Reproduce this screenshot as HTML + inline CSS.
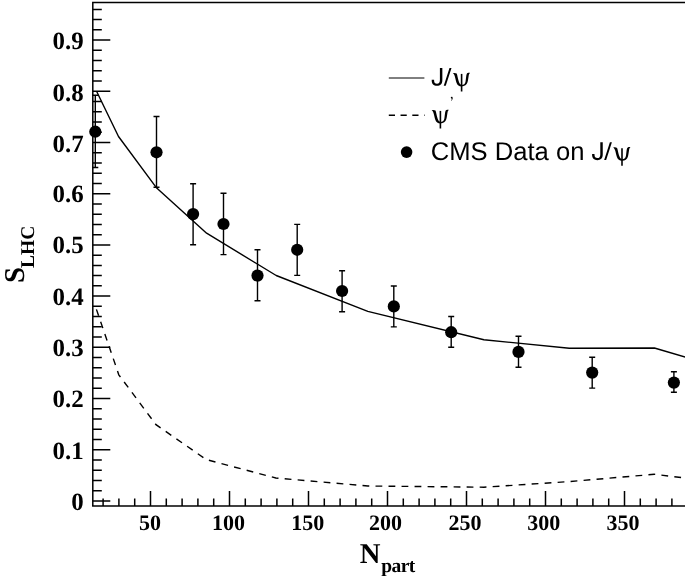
<!DOCTYPE html>
<html><head><meta charset="utf-8"><style>
html,body{margin:0;padding:0;background:#fff;overflow:hidden;}
svg{display:block;filter:grayscale(1);text-rendering:geometricPrecision;}
.yl{font-family:"Liberation Serif",serif;font-weight:bold;font-size:24.9px;}
.xl{font-family:"Liberation Serif",serif;font-weight:bold;font-size:22px;}
.t1{font-family:"Liberation Serif",serif;font-weight:bold;font-size:28.7px;}
.t2{font-family:"Liberation Serif",serif;font-weight:bold;font-size:19.5px;}
.lg{font-family:"Liberation Sans",sans-serif;font-size:25.6px;}
.psi{font-family:"Liberation Serif",serif;}
</style></head><body>
<svg width="685" height="576" viewBox="0 0 685 576">
<path d="M92.8,506.0 L92.8,2.6 L685,2.6" fill="none" stroke="#000" stroke-width="1.5"/>
<path d="M92.05,506.0 L685,506.0" fill="none" stroke="#000" stroke-width="1.5"/>
<path d="M92.8,500.90h17.5M92.8,490.66h9M92.8,480.42h9M92.8,470.18h9M92.8,459.94h9M92.8,449.70h17.5M92.8,439.46h9M92.8,429.22h9M92.8,418.98h9M92.8,408.74h9M92.8,398.50h17.5M92.8,388.26h9M92.8,378.02h9M92.8,367.78h9M92.8,357.54h9M92.8,347.30h17.5M92.8,337.06h9M92.8,326.82h9M92.8,316.58h9M92.8,306.34h9M92.8,296.10h17.5M92.8,285.86h9M92.8,275.62h9M92.8,265.38h9M92.8,255.14h9M92.8,244.90h17.5M92.8,234.66h9M92.8,224.42h9M92.8,214.18h9M92.8,203.94h9M92.8,193.70h17.5M92.8,183.46h9M92.8,173.22h9M92.8,162.98h9M92.8,152.74h9M92.8,142.50h17.5M92.8,132.26h9M92.8,122.02h9M92.8,111.78h9M92.8,101.54h9M92.8,91.30h17.5M92.8,81.06h9M92.8,70.82h9M92.8,60.58h9M92.8,50.34h9M92.8,40.10h17.5M92.8,29.86h9M92.8,19.62h9M92.8,9.38h9" stroke="#000" stroke-width="1.5"/>
<path d="M103.10,506.0v-7.6M118.90,506.0v-7.6M134.70,506.0v-7.6M150.50,506.0v-15M166.30,506.0v-7.6M182.10,506.0v-7.6M197.90,506.0v-7.6M213.70,506.0v-7.6M229.50,506.0v-15M245.30,506.0v-7.6M261.10,506.0v-7.6M276.90,506.0v-7.6M292.70,506.0v-7.6M308.50,506.0v-15M324.30,506.0v-7.6M340.10,506.0v-7.6M355.90,506.0v-7.6M371.70,506.0v-7.6M387.50,506.0v-15M403.30,506.0v-7.6M419.10,506.0v-7.6M434.90,506.0v-7.6M450.70,506.0v-7.6M466.50,506.0v-15M482.30,506.0v-7.6M498.10,506.0v-7.6M513.90,506.0v-7.6M529.70,506.0v-7.6M545.50,506.0v-15M561.30,506.0v-7.6M577.10,506.0v-7.6M592.90,506.0v-7.6M608.70,506.0v-7.6M624.50,506.0v-15M640.30,506.0v-7.6M656.10,506.0v-7.6M671.90,506.0v-7.6" stroke="#000" stroke-width="1.5"/>
<text x="83.7" y="509.95" text-anchor="end" class="yl">0</text>
<text x="83.7" y="458.85" text-anchor="end" class="yl">0.1</text>
<text x="83.7" y="407.15" text-anchor="end" class="yl">0.2</text>
<text x="83.7" y="356.05" text-anchor="end" class="yl">0.3</text>
<text x="83.7" y="305.30" text-anchor="end" class="yl">0.4</text>
<text x="83.7" y="252.85" text-anchor="end" class="yl">0.5</text>
<text x="83.7" y="202.30" text-anchor="end" class="yl">0.6</text>
<text x="83.7" y="151.60" text-anchor="end" class="yl">0.7</text>
<text x="83.7" y="101.05" text-anchor="end" class="yl">0.8</text>
<text x="83.7" y="48.90" text-anchor="end" class="yl">0.9</text>
<text x="139.10" y="529.6" class="xl">50</text>
<text x="212.04" y="529.6" class="xl">100</text>
<text x="291.24" y="529.6" class="xl">150</text>
<text x="369.08" y="529.6" class="xl">200</text>
<text x="448.38" y="529.6" class="xl">250</text>
<text x="527.37" y="529.6" class="xl">300</text>
<text x="606.57" y="529.6" class="xl">350</text>
<text transform="translate(24.1,283) rotate(-90)" class="t1">S</text>
<text transform="translate(34,267.9) rotate(-90)" class="t2">LHC</text>
<text x="359.8" y="562.8" class="t1">N</text>
<text x="381.3" y="572.4" class="t2" letter-spacing="-0.6">part</text>
<path d="M96.8,91.8 L118.5,136.5 L156.7,188.1 L206.6,233.2 L276.2,275.5 L367.8,311.4 L483.9,339.8 L569.3,348.2 L654.4,348.0 L700,361.4" fill="none" stroke="#000" stroke-width="1.4" stroke-linejoin="round"/>
<path d="M96.2,308.7 L118.8,374.8 L156,424.7 L206.3,459.6 L275.8,478 L367.8,486 L483.9,487.2 L569.3,481.6 L654.3,474.3 L700,479.8" fill="none" stroke="#000" stroke-width="1.4" stroke-dasharray="6.8 6.22" stroke-dashoffset="-0.7"/>
<path d="M95.3,95.2V167.5M92.3,95.2h6M92.3,167.5h6M156.5,116.5V187.3M153.5,116.5h6M153.5,187.3h6M193.1,183.8V244.7M190.1,183.8h6M190.1,244.7h6M223.5,193.3V254.6M220.5,193.3h6M220.5,254.6h6M257.5,249.7V300.75M254.5,249.7h6M254.5,300.75h6M297.2,224.4V275.4M294.2,224.4h6M294.2,275.4h6M342.1,270.8V311.7M339.1,270.8h6M339.1,311.7h6M393.8,286V326.9M390.8,286h6M390.8,326.9h6M451.2,316.5V347.2M448.2,316.5h6M448.2,347.2h6M518.5,336.3V367.3M515.5,336.3h6M515.5,367.3h6M592.2,357.2V388.1M589.2,357.2h6M589.2,388.1h6M673.9,371.8V392.3M670.9,371.8h6M670.9,392.3h6" fill="none" stroke="#000" stroke-width="1.4"/>
<circle cx="95.3" cy="131.7" r="6.1"/>
<circle cx="156.5" cy="152.3" r="6.1"/>
<circle cx="193.1" cy="214.1" r="6.1"/>
<circle cx="223.5" cy="224" r="6.1"/>
<circle cx="257.5" cy="275.6" r="6.1"/>
<circle cx="297.2" cy="249.8" r="6.1"/>
<circle cx="342.1" cy="291" r="6.1"/>
<circle cx="393.8" cy="306.4" r="6.1"/>
<circle cx="451.2" cy="332.2" r="6.1"/>
<circle cx="518.5" cy="351.9" r="6.1"/>
<circle cx="592.2" cy="372.6" r="6.1"/>
<circle cx="673.9" cy="382.6" r="6.1"/>
<path d="M388.8,78H424.4" stroke="#000" stroke-width="1"/>
<path d="M388.8,115.2H424.6" stroke="#000" stroke-width="1.5" stroke-dasharray="6.2 5.55"/>
<circle cx="406.6" cy="152.1" r="5.8"/>
<defs><g id="psi"><path d="M-8.84,-12.21C-8.0,-12.8 -6.0,-12.8 -4.9,-11.9C-4.3,-10.5 -3.4,-5.5 -2.7,-3.8C-2.1,-2.0 -1.2,-0.9 0,-0.6L0,1.0C-2.6,1.0 -4.2,-0.5 -5.0,-2.6C-5.8,-4.8 -6.3,-7.5 -6.9,-9.5C-7.3,-11.0 -7.9,-11.9 -8.84,-12.21Z"/><path d="M8.52,-12.53C7.6,-12.95 5.8,-12.9 5.1,-11.6C4.5,-10 4.3,-6 3.9,-3.8C3.5,-1.6 2.0,-0.6 0,-0.5L0,1.0C3.2,0.9 5.0,-0.8 5.9,-3.2C6.6,-5.5 6.8,-8.5 7.2,-10.5C7.5,-11.6 7.9,-12.2 8.52,-12.53Z"/><path d="M-0.8,-11.6H0.8V6.0H-0.8Z"/></g></defs>
<path transform="translate(431.6,85.5)" d="M12.15,0.2H14.15L19.9,-17.55H17.9ZM8.3,-17.55H10.75V-5.5C10.75,-1.4 8.6,0.35 5.4,0.35C2.0,0.35 0.1,-1.6 0.1,-5.0V-5.8H2.5V-5.0C2.5,-2.9 3.5,-1.8 5.4,-1.8C7.4,-1.8 8.3,-2.9 8.3,-5.4Z"/>
<path transform="translate(592.0,159.85)" d="M12.15,0.2H14.15L19.9,-17.55H17.9ZM8.3,-17.55H10.75V-5.5C10.75,-1.4 8.6,0.35 5.4,0.35C2.0,0.35 0.1,-1.6 0.1,-5.0V-5.8H2.5V-5.0C2.5,-2.9 3.5,-1.8 5.4,-1.8C7.4,-1.8 8.3,-2.9 8.3,-5.4Z"/>
<use href="#psi" x="461.6" y="85.5"/>
<use href="#psi" x="440.4" y="122.5"/>
<path d="M451.7,96.7C452.4,96.7 452.8,97.3 452.7,98.2C452.6,99.3 452.0,100.3 451.3,100.8L451.1,100.5C451.5,100 451.8,99.3 451.8,98.7C451.2,98.7 450.8,98.2 450.8,97.6C450.8,97.1 451.2,96.7 451.7,96.7Z"/>
<text x="430.8" y="159.9" class="lg">CMS Data on</text>
<use href="#psi" x="622" y="159.85"/>
</svg>
</body></html>
